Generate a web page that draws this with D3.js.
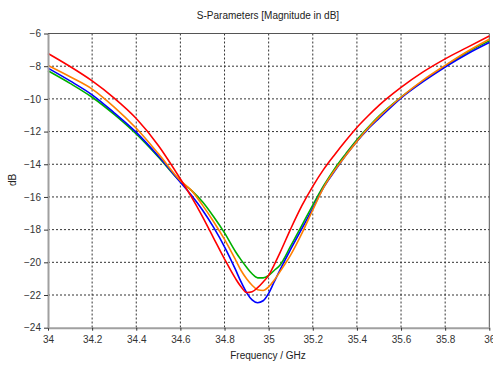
<!DOCTYPE html>
<html>
<head>
<meta charset="utf-8">
<script src="https://cdn.jsdelivr.net/npm/d3@7"></script>
<style>
  body { margin: 0; background: #fff; }
  svg text { font-family: "Liberation Sans", Arial, sans-serif; }
</style>
</head>
<body>
<svg id="chart"></svg>
<script>
const W = 493, H = 365;
const margin = {top: 33.5, right: 4, bottom: 37.5, left: 48};

// frequencies (GHz) for each curve
const freqs = [34.0, 34.1, 34.2, 34.3, 34.4, 34.5, 34.6, 34.65, 34.7, 34.75, 34.8, 34.85, 34.875,
  34.9, 34.925, 34.95, 34.975, 35.0, 35.025, 35.05, 35.1, 35.15, 35.2, 35.25, 35.3, 35.35,
  35.4, 35.45, 35.5, 35.6, 35.7, 35.8, 35.9, 36.0];

const redVals = [-7.22, -8.02, -8.90, -9.95, -11.20, -12.85, -14.9, -16.0, -17.2, -18.5, -19.8, -21.0, -21.5,
  -21.85, -21.8, -21.55, -21.2, -20.8, -20.15, -19.45, -17.95, -16.55, -15.35, -14.3, -13.4, -12.55,
  -11.75, -11.05, -10.4, -9.3, -8.35, -7.55, -6.85, -6.15];

const orangeVals = [-7.96, -8.65, -9.4, -10.5, -11.8, -13.35, -15.0, -15.6, -16.5, -17.5, -18.6, -19.85, -20.5,
  -21.0, -21.4, -21.68, -21.72, -21.5, -21.1, -20.6, -19.55, -18.25, -16.8, -15.4, -14.35, -13.45,
  -12.6, -11.8, -11.1, -9.9, -8.85, -7.95, -7.1, -6.35];

const blueVals = [-8.12, -8.9, -9.75, -10.85, -12.05, -13.5, -15.1, -15.9, -16.8, -17.85, -19.05, -20.45, -21.2,
  -21.85, -22.3, -22.47, -22.35, -21.9, -21.2, -20.5, -19.2, -17.95, -16.7, -15.4, -14.4, -13.45,
  -12.6, -11.85, -11.2, -9.95, -8.95, -8.05, -7.25, -6.55];

const greenVals = [-8.28, -9.05, -9.9, -10.95, -12.15, -13.55, -15.05, -15.6, -16.3, -17.2, -18.2, -19.35, -19.85,
  -20.3, -20.7, -20.95, -20.95, -20.8, -20.5, -20.2, -19.0, -17.75, -16.5, -15.3, -14.25, -13.35,
  -12.5, -11.75, -11.05, -9.9, -8.9, -8.0, -7.15, -6.45];

const xTicks = [34, 34.2, 34.4, 34.6, 34.8, 35, 35.2, 35.4, 35.6, 35.8, 36];
const yTicks = [-24, -22, -20, -18, -16, -14, -12, -10, -8, -6];

const series = [
  {name: "green",  color: "#00b000", vals: greenVals},
  {name: "blue",   color: "#0000ff", vals: blueVals},
  {name: "orange", color: "#ff8000", vals: orangeVals},
  {name: "red",    color: "#ff0000", vals: redVals}
];

const svg = d3.select("#chart")
  .attr("width", W)
  .attr("height", H);

const x = d3.scaleLinear().domain([34, 36]).range([margin.left, 489.3]);
const y = d3.scaleLinear().domain([-24, -6]).range([327.7, margin.top]);

// title
svg.append("text")
  .attr("x", 268)
  .attr("y", 19)
  .attr("text-anchor", "middle")
  .attr("fill", "#222")
  .style("font-size", "10px")
  .text("S-Parameters [Magnitude in dB]");

// grid
const grid = svg.append("g").attr("class", "grid");
grid.selectAll(".vg")
  .data(xTicks.slice(1, -1))
  .join("line")
    .attr("x1", d => x(d)).attr("x2", d => x(d))
    .attr("y1", y(-6)).attr("y2", y(-24))
    .attr("stroke", "#333")
    .attr("stroke-width", 1)
    .attr("stroke-dasharray", "2,2");
grid.selectAll(".hg")
  .data(yTicks.slice(1, -1))
  .join("line")
    .attr("x1", x(34)).attr("x2", x(36))
    .attr("y1", d => y(d)).attr("y2", d => y(d))
    .attr("stroke", "#333")
    .attr("stroke-width", 1)
    .attr("stroke-dasharray", "2,2");

// top and right frame
svg.append("line")
  .attr("x1", x(34)).attr("x2", x(36))
  .attr("y1", y(-6)).attr("y2", y(-6))
  .attr("stroke", "#555");
svg.append("line")
  .attr("x1", x(36)).attr("x2", x(36))
  .attr("y1", y(-6)).attr("y2", y(-24))
  .attr("stroke", "#555");

// curves
const line = d3.line()
  .curve(d3.curveMonotoneX)
  .x((d, i) => x(freqs[i]))
  .y(d => y(d));

svg.append("g")
  .selectAll("path")
  .data(series)
  .join("path")
    .attr("fill", "none")
    .attr("stroke", d => d.color)
    .attr("stroke-width", 1.6)
    .attr("d", d => line(d.vals));

// axes
const xAxis = d3.axisBottom(x).tickValues(xTicks).tickSize(3).tickSizeOuter(0)
  .tickFormat(d3.format("~g"));
const yAxis = d3.axisLeft(y).tickValues(yTicks).tickSize(4).tickSizeOuter(0)
  .tickFormat(d3.format("~g"));

const gx = svg.append("g")
  .attr("transform", "translate(0," + y(-24) + ")")
  .call(xAxis);
const gy = svg.append("g")
  .attr("transform", "translate(" + x(34) + ",0)")
  .call(yAxis);

[gx, gy].forEach(g => {
  g.select(".domain").attr("stroke", "#a0a0a0").attr("stroke-width", 2);
  g.selectAll(".tick line").attr("stroke", "#333");
  g.selectAll(".tick text")
    .attr("fill", "#333")
    .style("font-size", "10px")
    .style("font-family", "Liberation Sans, Arial, sans-serif");
});
gx.selectAll(".tick text").attr("dy", "0.9em");
gy.selectAll(".tick text").attr("x", -7);

// axis titles
svg.append("text")
  .attr("x", 268)
  .attr("y", 359)
  .attr("text-anchor", "middle")
  .attr("fill", "#222")
  .style("font-size", "10px")
  .text("Frequency / GHz");

svg.append("text")
  .attr("transform", "translate(16,180) rotate(-90)")
  .attr("text-anchor", "middle")
  .attr("fill", "#222")
  .style("font-size", "10px")
  .text("dB");
</script>
</body>
</html>
